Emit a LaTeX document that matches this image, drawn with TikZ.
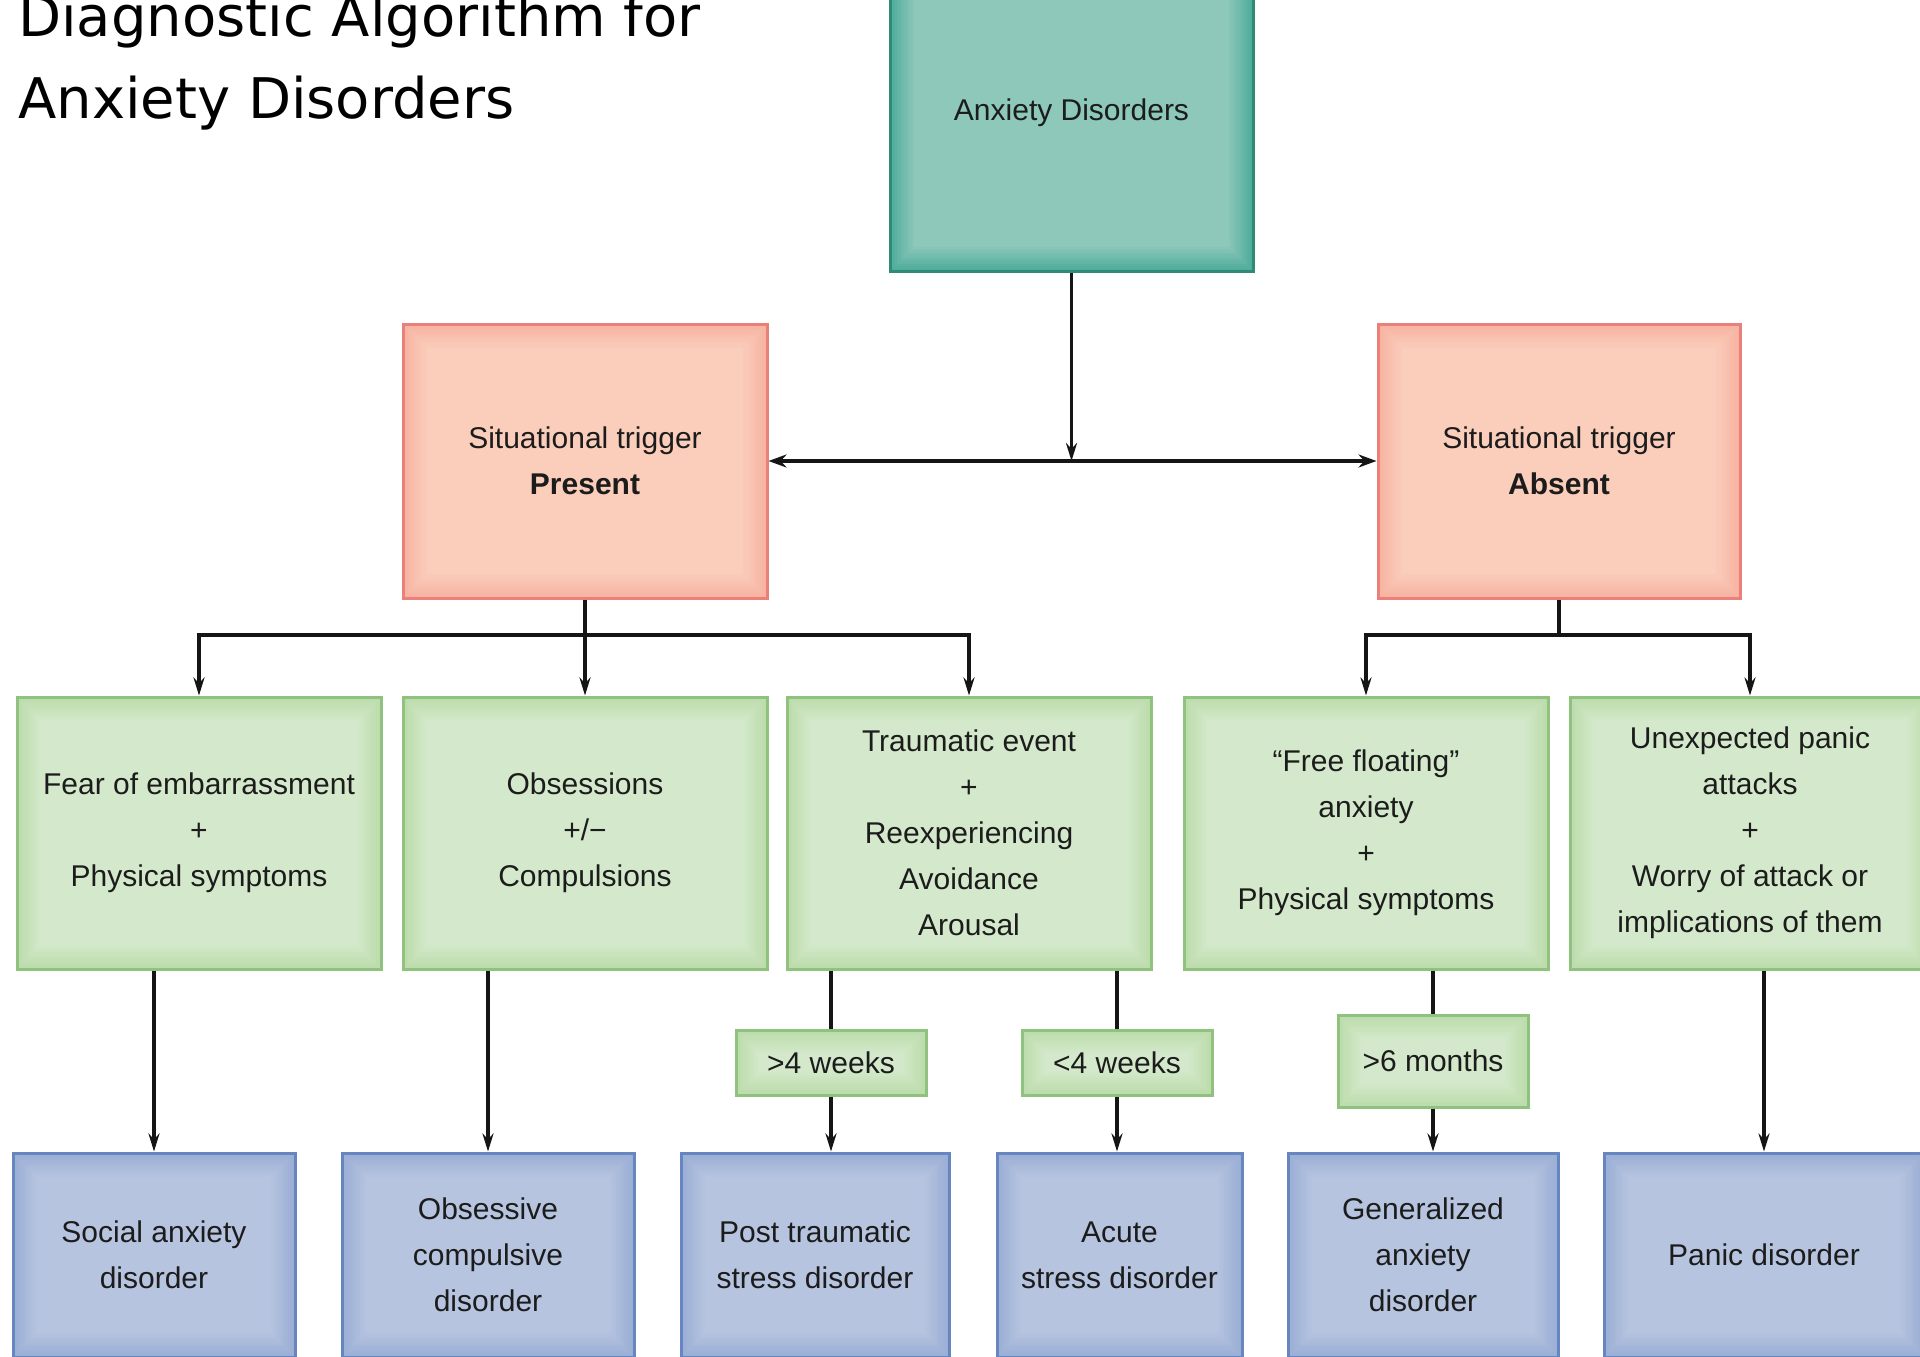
\documentclass[tikz,border=0pt]{standalone}
\usepackage{fontspec}
\setmainfont{Liberation Sans}
\newfontfamily\titlefont{DejaVu Sans}
\usetikzlibrary{arrows.meta}
\definecolor{tealIn}{HTML}{8DC8BB}
\definecolor{tealOut}{HTML}{4FAC9B}
\definecolor{tealLine}{HTML}{2F8A78}
\definecolor{pinkIn}{HTML}{FBCDBB}
\definecolor{pinkOut}{HTML}{F6B3A2}
\definecolor{pinkLine}{HTML}{EB8078}
\definecolor{greenIn}{HTML}{D4E9CB}
\definecolor{greenOut}{HTML}{BCDCAC}
\definecolor{greenLine}{HTML}{8EC27E}
\definecolor{blueIn}{HTML}{B6C4DF}
\definecolor{blueOut}{HTML}{9AAED5}
\definecolor{blueLine}{HTML}{6785BF}
\definecolor{txt}{HTML}{1C1C1C}
\definecolor{ink}{HTML}{151515}
\tikzset{
  bevel/.style n args={3}{draw=#3, line width=3pt, fill=#2, text=txt, inner sep=0pt,
    align=center, font=\fontsize{30}{46}\selectfont,
    path picture={\foreach \i in {1,...,10}{\pgfmathtruncatemacro\pc{\i*10}
      \fill[#1!\pc!#2] ([shift={(\i*2.4,\i*2.4)}]path picture bounding box.north west)
        rectangle ([shift={(-\i*2.4,-\i*2.4)}]path picture bounding box.south east);}}},
  tealbox/.style={bevel={tealIn}{tealOut}{tealLine}},
  pinkbox/.style={bevel={pinkIn}{pinkOut}{pinkLine}},
  greenbox/.style={bevel={greenIn}{greenOut}{greenLine}},
  bluebox/.style={bevel={blueIn}{blueOut}{blueLine}},
  ln/.style={draw=ink, line width=3.4pt},
  arr/.style={draw=ink, line width=3.4pt, -{Stealth[length=18pt,width=11pt]}},
  dbl/.style={draw=ink, line width=4.6pt, {Stealth[length=18pt,width=13pt]}-{Stealth[length=18pt,width=13pt]}},
  titletext/.style={anchor=base west, inner sep=0pt, font=\titlefont\fontsize{56}{82}\selectfont, text=black}
}
\begin{document}
\begin{tikzpicture}[x=1pt,y=-1pt]
\useasboundingbox (0,0) rectangle (1920,1357);
\clip (0,0) rectangle (1920,1357);
\fill[white] (0,0) rectangle (1920,1357);

% title
\node[titletext] (t1) at (18,36) {Diagnostic Algorithm for};
\node[titletext] (t2) at (18,118) {Anxiety Disorders};

% top level
\node[tealbox, minimum width=363pt, minimum height=316pt] (top) at (1071.5,113) {Anxiety Disorders};
\node[pinkbox, minimum width=364pt, minimum height=274pt] (pl) at (585,461) {Situational trigger\\\textbf{Present}};
\node[pinkbox, minimum width=362pt, minimum height=274pt] (pr) at (1559,461) {Situational trigger\\\textbf{Absent}};

% criteria
\node[greenbox, minimum width=364pt, minimum height=272pt] (g1) at (199,833) {Fear of embarrassment\\+\\Physical symptoms};
\node[greenbox, minimum width=364pt, minimum height=272pt] (g2) at (585,833) {Obsessions\\+/−\\Compulsions};
\node[greenbox, minimum width=364pt, minimum height=272pt] (g3) at (969,833) {Traumatic event\\+\\Reexperiencing\\Avoidance\\Arousal};
\node[greenbox, minimum width=364pt, minimum height=272pt] (g4) at (1366,833) {“Free floating”\\anxiety\\+\\Physical symptoms};
\node[greenbox, minimum width=360pt, minimum height=272pt] (g5) at (1750,833) {Unexpected panic\\attacks\\+\\Worry of attack or\\implications of them};

% durations
\node[greenbox, minimum width=190pt, minimum height=65pt] (w1) at (831,1062.5) {>4 weeks};
\node[greenbox, minimum width=190pt, minimum height=65pt] (w2) at (1117,1062.5) {<4 weeks};
\node[greenbox, minimum width=190pt, minimum height=92pt] (w3) at (1433,1061) {>6 months};

% diagnoses
\node[bluebox, minimum width=282pt, minimum height=204pt] (b1) at (154,1255) {Social anxiety\\disorder};
\node[bluebox, minimum width=292pt, minimum height=204pt] (b2) at (488,1255) {Obsessive\\compulsive\\disorder};
\node[bluebox, minimum width=268pt, minimum height=204pt] (b3) at (815,1255) {Post traumatic\\stress disorder};
\node[bluebox, minimum width=245pt, minimum height=204pt] (b4) at (1119.5,1255) {Acute\\stress disorder};
\node[bluebox, minimum width=270pt, minimum height=204pt] (b5) at (1423,1255) {Generalized\\anxiety\\disorder};
\node[bluebox, minimum width=320pt, minimum height=204pt] (b6) at (1764,1255) {Panic disorder};

% connectors: top
\coordinate (j0) at (top.south |- pl.east);
\draw[arr] (top.south) -- (j0);
\draw[dbl] (pl.east) -- (pr.west);

% left branch
\coordinate (bl) at (585,635);
\draw[ln] (pl.south) -- (bl);
\draw[ln, line cap=rect] (g1.north |- bl) -- (g3.north |- bl);
\draw[arr] (g1.north |- bl) -- (g1.north);
\draw[arr] (g2.north |- bl) -- (g2.north);
\draw[arr] (g3.north |- bl) -- (g3.north);

% right branch
\coordinate (br) at (1559,635);
\draw[ln] (pr.south) -- (br);
\draw[ln, line cap=rect] (g4.north |- br) -- (g5.north |- br);
\draw[arr] (g4.north |- br) -- (g4.north);
\draw[arr] (g5.north |- br) -- (g5.north);

% lower connectors
\draw[arr] (g1.south -| b1.north) -- (b1.north);
\draw[arr] (g2.south -| b2.north) -- (b2.north);
\draw[ln] (g3.south -| w1.north) -- (w1.north);
\draw[arr] (w1.south) -- (w1.south |- b3.north);
\draw[ln] (g3.south -| w2.north) -- (w2.north);
\draw[arr] (w2.south) -- (w2.south |- b4.north);
\draw[ln] (g4.south -| w3.north) -- (w3.north);
\draw[arr] (w3.south) -- (w3.south |- b5.north);
\draw[arr] (g5.south -| b6.north) -- (b6.north);
\end{tikzpicture}
\end{document}
